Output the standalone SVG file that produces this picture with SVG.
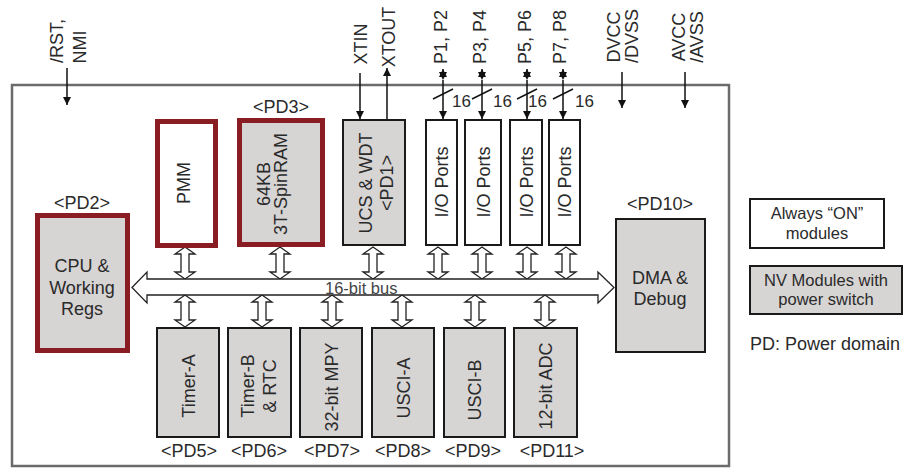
<svg xmlns="http://www.w3.org/2000/svg" width="911" height="468" viewBox="0 0 911 468">
<defs>
<style>
text{font-family:"Liberation Sans",Arial,sans-serif;fill:#2a2a2a;font-size:18px}
.mid{text-anchor:middle}
.red{fill:#d7d4d4;stroke:#8a1c24;stroke-width:5}
.redw{fill:#ffffff;stroke:#8a1c24;stroke-width:5}
.gbox{fill:#d7d4d4;stroke:#1a1a1a;stroke-width:2}
.wbox{fill:#ffffff;stroke:#1a1a1a;stroke-width:2}
.ln{stroke:#111;stroke-width:1.5;fill:none}
.blk{fill:#fff;stroke:#222;stroke-width:1.3}
.lg{font-size:16.5px}
.sm{font-size:17px}
</style>
<marker id="ah" viewBox="0 0 10 10" refX="10" refY="5" markerWidth="8" markerHeight="8" markerUnits="userSpaceOnUse" orient="auto">
<path d="M0,0 L10,5 L0,10 Z" fill="#111"/>
</marker>
<path id="dbl" d="M0,0 L10,7 L4,7 L4,25 L10,25 L0,32 L-10,25 L-4,25 L-4,7 L-10,7 Z"/>
</defs>
<rect width="911" height="468" fill="#fff"/>

<!-- outer frame -->
<rect x="12" y="85" width="717" height="381" fill="none" stroke="#6b6b6b" stroke-width="2.5"/>

<!-- pin labels -->
<g id="pins">
<text class="mid" transform="translate(63,41) rotate(-90)">/RST,</text>
<text class="mid" transform="translate(86,47) rotate(-90)">NMI</text>
<text class="mid" transform="translate(367,44) rotate(-90)">XTIN</text>
<text class="mid" transform="translate(395,37) rotate(-90)">XTOUT</text>
<text class="mid" transform="translate(447,37) rotate(-90)">P1, P2</text>
<text class="mid" transform="translate(486,37) rotate(-90)">P3, P4</text>
<text class="mid" transform="translate(531,37) rotate(-90)">P5, P6</text>
<text class="mid" transform="translate(566,37) rotate(-90)">P7, P8</text>
<text class="mid" transform="translate(620,37) rotate(-90)">DVCC</text>
<text class="mid" transform="translate(638,36) rotate(-90)">/DVSS</text>
<text class="mid" transform="translate(685,37) rotate(-90)">AVCC</text>
<text class="mid" transform="translate(703,37) rotate(-90)">/AVSS</text>
</g>

<!-- connectors -->
<g id="connectors">
<line class="ln" x1="67" y1="68" x2="67" y2="105" marker-end="url(#ah)"/>
<line class="ln" x1="360" y1="73" x2="360" y2="119" marker-end="url(#ah)"/>
<line class="ln" x1="387" y1="119" x2="387" y2="68" marker-end="url(#ah)"/>
<line class="ln" x1="443" y1="80" x2="443" y2="119" marker-start="url(#ah)" marker-end="url(#ah)"/>
<line class="ln" x1="482" y1="80" x2="482" y2="119" marker-start="url(#ah)" marker-end="url(#ah)"/>
<line class="ln" x1="527" y1="80" x2="527" y2="119" marker-start="url(#ah)" marker-end="url(#ah)"/>
<line class="ln" x1="563" y1="80" x2="563" y2="119" marker-start="url(#ah)" marker-end="url(#ah)"/>
<line class="ln" x1="443" y1="75" x2="443" y2="69" marker-end="url(#ah)"/>
<line class="ln" x1="482" y1="75" x2="482" y2="69" marker-end="url(#ah)"/>
<line class="ln" x1="527" y1="75" x2="527" y2="69" marker-end="url(#ah)"/>
<line class="ln" x1="563" y1="75" x2="563" y2="69" marker-end="url(#ah)"/>
<line class="ln" x1="433" y1="99" x2="453" y2="89"/>
<line class="ln" x1="472" y1="99" x2="492" y2="89"/>
<line class="ln" x1="517" y1="99" x2="537" y2="89"/>
<line class="ln" x1="553" y1="99" x2="573" y2="89"/>
<text class="sm" x="452" y="107">16</text>
<text class="sm" x="493" y="107">16</text>
<text class="sm" x="528" y="107">16</text>
<text class="sm" x="575" y="107">16</text>
<line class="ln" x1="622" y1="72" x2="622" y2="108" marker-end="url(#ah)"/>
<line class="ln" x1="685" y1="72" x2="685" y2="108" marker-end="url(#ah)"/>
<!-- small bus links -->
<use href="#dbl" class="blk" x="185" y="247"/>
<use href="#dbl" class="blk" x="280" y="247"/>
<use href="#dbl" class="blk" x="373" y="247"/>
<use href="#dbl" class="blk" x="438" y="247"/>
<use href="#dbl" class="blk" x="482" y="247"/>
<use href="#dbl" class="blk" x="527" y="247"/>
<use href="#dbl" class="blk" x="566" y="247"/>
<use href="#dbl" class="blk" x="185" y="295"/>
<use href="#dbl" class="blk" x="262" y="295"/>
<use href="#dbl" class="blk" x="332" y="295"/>
<use href="#dbl" class="blk" x="402" y="295"/>
<use href="#dbl" class="blk" x="475" y="295"/>
<use href="#dbl" class="blk" x="545" y="295"/>
<!-- 16-bit bus -->
<path class="blk" d="M132,287.5 L147,272 L147,279 L598,279 L598,272 L614,287.5 L598,303 L598,295 L147,295 L147,303 Z" stroke-width="1.5"/>
<text x="325" y="294" style="font-size:16.5px;fill:#444">16-bit bus</text>
</g>

<!-- nodes -->
<g id="pmm">
<rect class="redw" x="157.5" y="121.5" width="58" height="124"/>
<text class="mid" transform="translate(183,183) rotate(-90)" y="6.5">PMM</text>
</g>
<g id="sram">
<text class="mid" x="281" y="113">&lt;PD3&gt;</text>
<rect class="red" x="239.5" y="120.5" width="83" height="124"/>
<text class="mid" transform="translate(272,184) rotate(-90)"><tspan x="0" y="-2">64KB</tspan><tspan x="0" y="15">3T-SpinRAM</tspan></text>
</g>
<g id="cpu">
<text class="mid" x="82" y="209">&lt;PD2&gt;</text>
<rect class="red" x="37.5" y="215.5" width="90" height="135"/>
<text class="mid" x="82" y="272">CPU &amp;</text>
<text class="mid" x="82" y="294">Working</text>
<text class="mid" x="82" y="315">Regs</text>
</g>
<g id="ucs">
<rect class="gbox" x="343" y="120" width="62" height="125"/>
<text class="mid" transform="translate(376,183) rotate(-90)"><tspan x="0" y="-4">UCS &amp; WDT</tspan><tspan x="0" y="17">&lt;PD1&gt;</tspan></text>
</g>
<g id="io1">
<rect class="wbox" x="426" y="120" width="31" height="125"/>
<text class="mid" transform="translate(441.5,182) rotate(-90)" y="6.5">I/O Ports</text>
</g>
<g id="io2">
<rect class="wbox" x="465" y="120" width="36" height="125"/>
<text class="mid" transform="translate(483,182) rotate(-90)" y="6.5">I/O Ports</text>
</g>
<g id="io3">
<rect class="wbox" x="510" y="120" width="32" height="125"/>
<text class="mid" transform="translate(526,182) rotate(-90)" y="6.5">I/O Ports</text>
</g>
<g id="io4">
<rect class="wbox" x="549" y="120" width="31" height="125"/>
<text class="mid" transform="translate(564.5,182) rotate(-90)" y="6.5">I/O Ports</text>
</g>
<g id="dma">
<text class="mid" x="660" y="210">&lt;PD10&gt;</text>
<rect class="gbox" x="616" y="219" width="89" height="133"/>
<text class="mid" x="660" y="284">DMA &amp;</text>
<text class="mid" x="660" y="305">Debug</text>
</g>
<g id="timera">
<rect class="gbox" x="157" y="328" width="62" height="109"/>
<text class="mid" transform="translate(188,386) rotate(-90)" y="6.5">Timer-A</text>
<text class="mid" x="189" y="457">&lt;PD5&gt;</text>
</g>
<g id="timerb">
<rect class="gbox" x="228" y="328" width="63" height="109"/>
<text class="mid" transform="translate(259,386) rotate(-90)"><tspan x="0" y="-5">Timer-B</tspan><tspan x="0" y="17">&amp; RTC</tspan></text>
<text class="mid" x="259" y="457">&lt;PD6&gt;</text>
</g>
<g id="mpy">
<rect class="gbox" x="300" y="328" width="62" height="109"/>
<text class="mid" transform="translate(331,387) rotate(-90)" y="6.5">32-bit MPY</text>
<text class="mid" x="332" y="457">&lt;PD7&gt;</text>
</g>
<g id="uscia">
<rect class="gbox" x="372" y="328" width="62" height="109"/>
<text class="mid" transform="translate(403,388) rotate(-90)" y="6.5">USCI-A</text>
<text class="mid" x="403" y="457">&lt;PD8&gt;</text>
</g>
<g id="uscib">
<rect class="gbox" x="444" y="328" width="61" height="109"/>
<text class="mid" transform="translate(474.5,390) rotate(-90)" y="6.5">USCI-B</text>
<text class="mid" x="473" y="457">&lt;PD9&gt;</text>
</g>
<g id="adc">
<rect class="gbox" x="514" y="328" width="63" height="109"/>
<text class="mid" transform="translate(545.5,386) rotate(-90)" y="6.5">12-bit ADC</text>
<text class="mid" x="552" y="457">&lt;PD11&gt;</text>
</g>

<!-- legend -->
<g id="legend-on">
<rect class="wbox" x="750" y="199" width="134" height="49"/>
<text class="mid lg" x="817" y="219">Always “ON”</text>
<text class="mid lg" x="817" y="239">modules</text>
</g>
<g id="legend-nv">
<rect class="gbox" x="750" y="266" width="152" height="48"/>
<text class="mid lg" x="826" y="286">NV Modules with</text>
<text class="mid lg" x="826" y="305">power switch</text>
</g>
<g id="legend-pd">
<text x="750" y="350">PD: Power domain</text>
</g>
</svg>
